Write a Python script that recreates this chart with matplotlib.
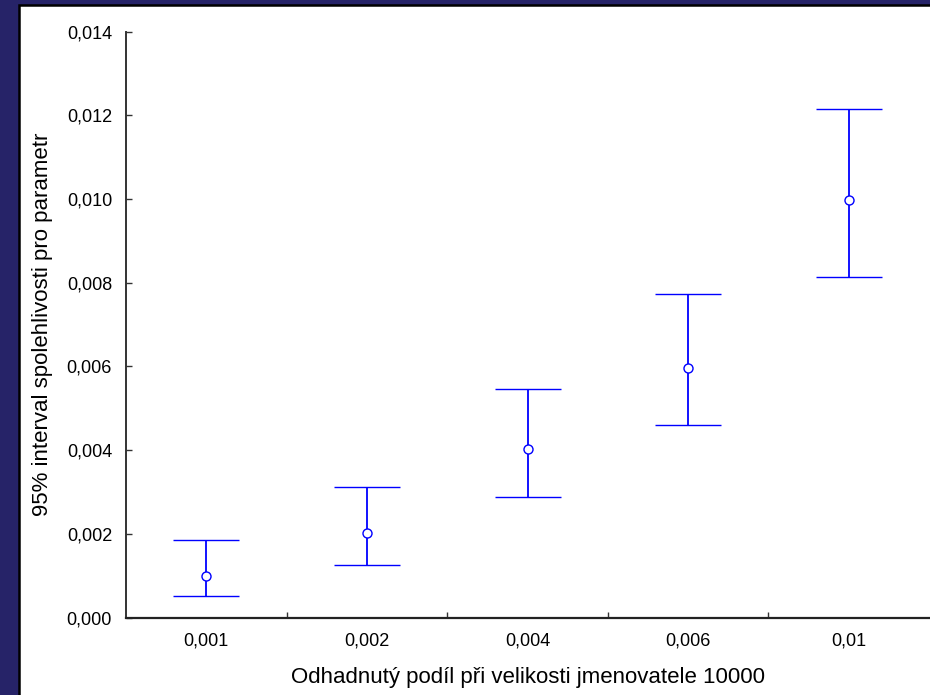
import numpy as np
import matplotlib.pyplot as plt
from matplotlib.patches import Rectangle
from matplotlib.ticker import FuncFormatter, FixedLocator

plt.rcParams["font.family"] = ["Liberation Sans", "DejaVu Sans"]

# estimated proportion (category), point estimate and 95% CI bounds
labels = ["0,001", "0,002", "0,004", "0,006", "0,01"]
estimate = [0.00099, 0.00201, 0.00402, 0.00597, 0.00998]
ci_low = [0.00052, 0.00126, 0.00288, 0.00459, 0.00814]
ci_high = [0.00185, 0.00312, 0.00547, 0.00772, 0.01214]

navy = "#262368"
blue = "#0000ff"

fig = plt.figure(figsize=(9.3, 6.95), dpi=100, facecolor=navy)

# white slide area with thin black border on left/top
fig.patches.append(
    Rectangle((19 / 930, -0.01), 1.0, (695 - 4.5) / 695 + 0.01,
              transform=fig.transFigure, facecolor="white",
              edgecolor="black", linewidth=1.8, zorder=-1)
)

ax = fig.add_axes([126 / 930, (695 - 617.6) / 695, 803 / 930, 586 / 695])
ax.set_facecolor("none")

x = np.arange(len(labels))
est = np.array(estimate)
lo = np.array(ci_low)
hi = np.array(ci_high)

ax.errorbar(
    x, est,
    yerr=[est - lo, hi - est],
    fmt="o",
    color=blue,
    ecolor=blue,
    markerfacecolor="white",
    markeredgecolor=blue,
    markersize=6.5,
    markeredgewidth=1.0,
    elinewidth=1.3,
    capsize=23.5,
    capthick=1.6,
    zorder=3,
)

ax.set_xlim(-0.5, len(labels) - 0.5)
ax.set_ylim(0, 0.014)

ax.set_xticks(x)
ax.set_xticklabels(labels)
ax.xaxis.set_minor_locator(FixedLocator(np.arange(0.5, len(labels) - 0.5, 1.0)))
ax.tick_params(axis="x", which="major", length=0, pad=11, labelsize=13)
ax.tick_params(axis="x", which="minor", direction="in", length=4, width=1.0,
               color="#333333")

ax.set_yticks(np.arange(0, 0.0141, 0.002))
ax.yaxis.set_major_formatter(FuncFormatter(lambda v, p: f"{v:.3f}".replace(".", ",")))
ax.tick_params(axis="y", direction="in", length=4, width=1.0, pad=10,
               labelsize=13, color="#333333")

for s in ["top", "right"]:
    ax.spines[s].set_visible(False)
ax.spines["left"].set_color("#333333")
ax.spines["left"].set_linewidth(1.4)
ax.spines["bottom"].set_color("#222222")
ax.spines["bottom"].set_linewidth(1.6)

ax.set_xlabel("Odhadnutý podíl při velikosti jmenovatele 10000", fontsize=16,
              labelpad=12)
ax.set_ylabel("95% interval spolehlivosti pro parametr", fontsize=16,
              labelpad=10)

fig.savefig("out.png", dpi=100, facecolor=navy)
